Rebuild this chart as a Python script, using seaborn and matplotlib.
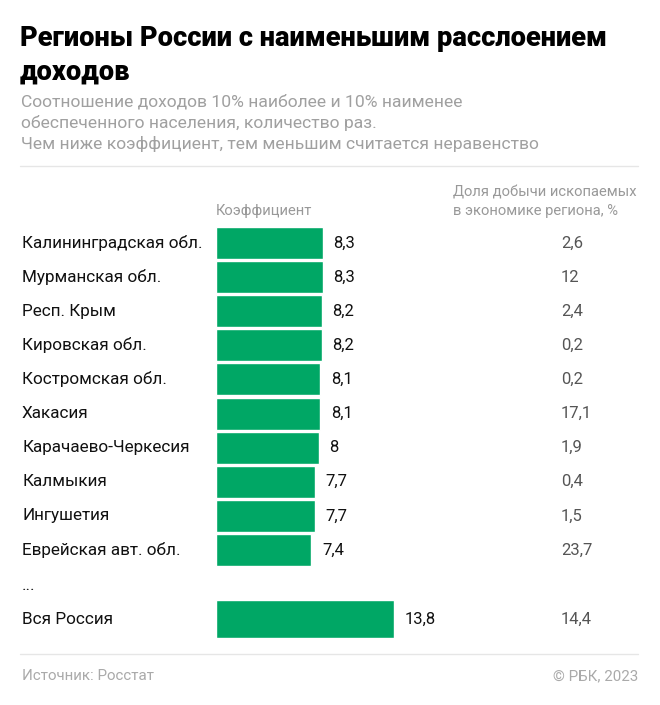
import matplotlib
matplotlib.use("Agg")
import matplotlib.pyplot as plt
import matplotlib.transforms as mtransforms
import seaborn as sns
import pandas as pd

regions = ["Калининградская обл.", "Мурманская обл.", "Респ. Крым", "Кировская обл.",
           "Костромская обл.", "Хакасия", "Карачаево-Черкесия", "Калмыкия",
           "Ингушетия", "Еврейская авт. обл."]
coef = [8.3, 8.3, 8.2, 8.2, 8.1, 8.1, 8.0, 7.7, 7.7, 7.4]
mining = ["2,6", "12", "2,4", "0,2", "0,2", "17,1", "1,9", "0,4", "1,5", "23,7"]
total_label = "Вся Россия"
total_coef = [13.8]
total_mining = "14,4"

title = "Регионы России с наименьшим расслоением\nдоходов"
subtitle = ("Соотношение доходов 10% наиболее и 10% наименее\n"
            "обеспеченного населения, количество раз.\n"
            "Чем ниже коэффициент, тем меньшим считается неравенство")
col1 = "Коэффициент"
col2 = "Доля добычи ископаемых\nв экономике региона, %"
source = "Источник: Росстат"
credit = "© РБК, 2023"

GREEN = "#00a765"
W, H = 660, 705
sns.set_theme(style="white")
plt.rcParams["font.family"] = ["Roboto", "DejaVu Sans"]

fig = plt.figure(figsize=(W / 100, H / 100), dpi=100)
PX = 12.9  # pixels per unit
x0 = 216
xmax = (W - x0) / PX
LBL = 12.3
VAL = 12.0

def fy(p):
    return 1 - p / H

def fx(p):
    return p / W

# main bars
top, bot = 226, 567
ax = fig.add_axes([fx(x0), fy(bot), 1 - fx(x0), (bot - top) / H])
df = pd.DataFrame({"region": regions, "coef": coef})
sns.barplot(data=df, y="region", x="coef", color=GREEN, saturation=1, width=0.94,
            ax=ax, orient="h")
ax.set_xlim(0, xmax)
ax.set_ylim(len(regions) - 0.5, -0.5)
ax.axis("off")
tr = mtransforms.blended_transform_factory(fig.transFigure, ax.transData)
for i, (r, v, m) in enumerate(zip(regions, coef, mining)):
    ax.text(fx(22), i, r, transform=tr, ha="left", va="center", fontsize=LBL, color="#111111")
    ax.annotate(f"{v:g}".replace(".", ","), (v, i), xytext=(7.5, 0), textcoords="offset points",
                ha="left", va="center", fontsize=VAL, color="#111111")
    ax.text(fx(561), i, m, transform=tr, ha="left", va="center", fontsize=VAL, color="#555555")

# total bar
t_top, t_bot = 600, 638
ax2 = fig.add_axes([fx(x0), fy(t_bot), 1 - fx(x0), (t_bot - t_top) / H])
df2 = pd.DataFrame({"region": [total_label], "coef": total_coef})
sns.barplot(data=df2, y="region", x="coef", color=GREEN, saturation=1, width=1.0,
            ax=ax2, orient="h")
ax2.set_xlim(0, xmax)
ax2.set_ylim(0.5, -0.5)
ax2.axis("off")
tr2 = mtransforms.blended_transform_factory(fig.transFigure, ax2.transData)
ax2.text(fx(22), 0, total_label, transform=tr2, ha="left", va="center", fontsize=LBL, color="#111111")
ax2.annotate(f"{total_coef[0]:g}".replace(".", ","), (total_coef[0], 0), xytext=(7.5, 0),
             textcoords="offset points", ha="left", va="center", fontsize=VAL, color="#111111")
ax2.text(fx(561), 0, total_mining, transform=tr2, ha="left", va="center", fontsize=VAL, color="#555555")

fig.text(fx(22), fy(586), "...", ha="left", va="center", fontsize=LBL, color="#111111")

# titles
fig.text(fx(20), fy(25), title, ha="left", va="top", fontsize=19.6, fontweight="heavy",
         color="#000000", linespacing=1.29)
fig.text(fx(21), fy(94), subtitle, ha="left", va="top", fontsize=12.6, color="#a0a0a0",
         linespacing=1.42)
fig.add_artist(plt.Line2D([fx(20), fx(638)], [fy(166), fy(166)], color="#e6e6e6", lw=1))
fig.text(fx(216), fy(211), col1, ha="left", va="center", fontsize=10.6, color="#999999")
fig.text(fx(453), fy(202), col2, ha="left", va="center", fontsize=10.6, color="#999999",
         linespacing=1.45)

fig.add_artist(plt.Line2D([fx(20), fx(638)], [fy(654), fy(654)], color="#e6e6e6", lw=1))
fig.text(fx(22), fy(676), source, ha="left", va="center", fontsize=10.9, color="#aaaaaa")
fig.text(fx(638), fy(676), credit, ha="right", va="center", fontsize=10.9, color="#aaaaaa")

fig.savefig("out.png", dpi=100)
